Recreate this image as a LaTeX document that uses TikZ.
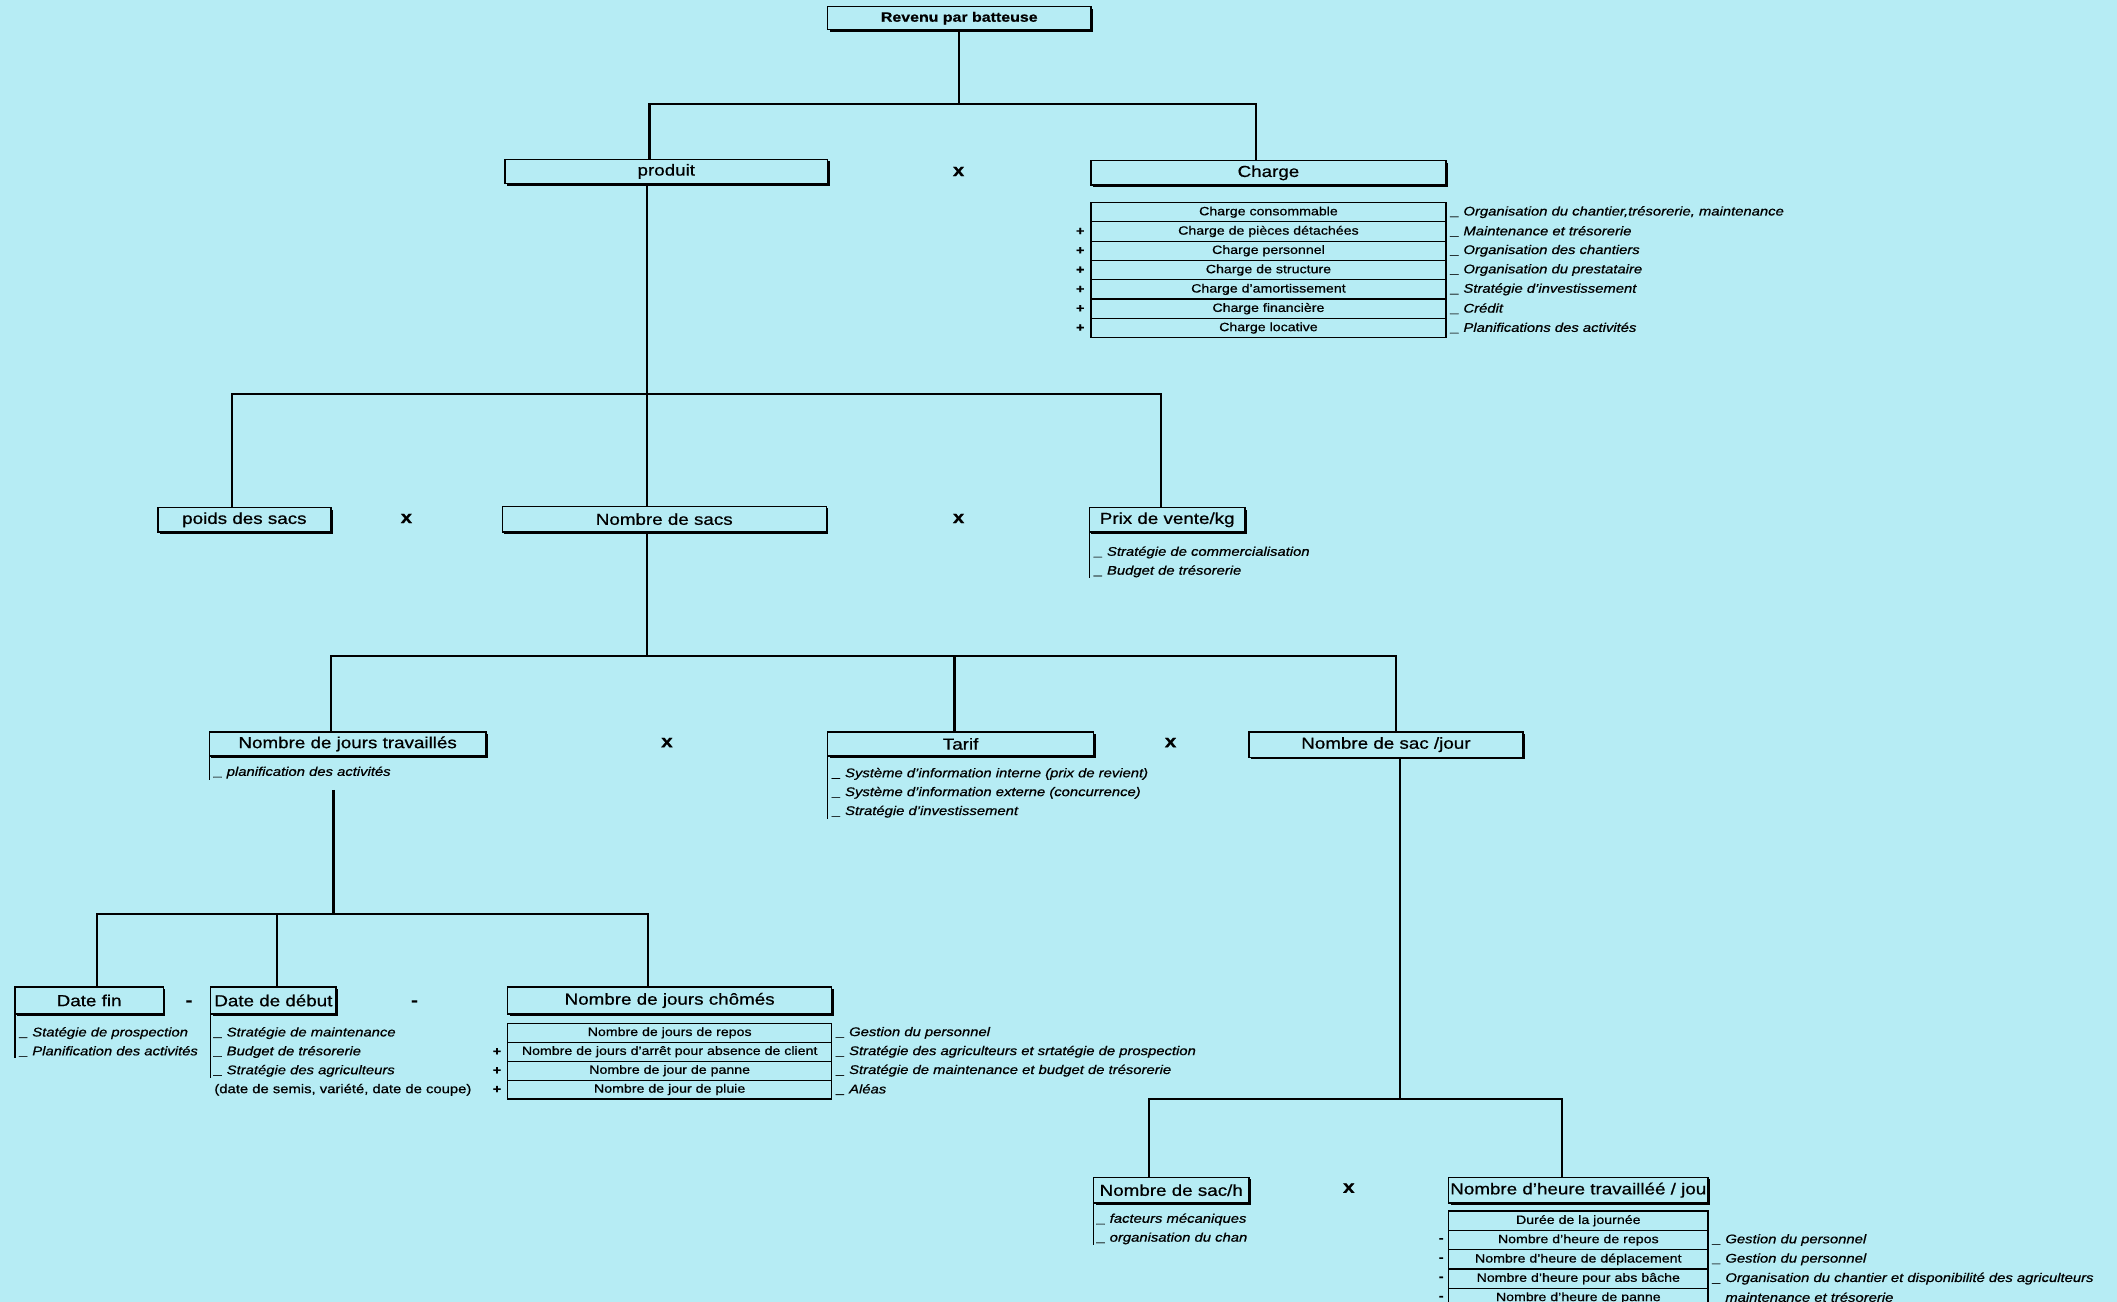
\documentclass[tikz,border=0pt]{standalone}
\usepackage{fontspec}
\setmainfont{Liberation Sans}[FakeStretch=1.18, RawFeature={embolden=0.7}]
\usetikzlibrary{positioning,shadows}
\definecolor{fond}{RGB}{182,236,244}

\begin{document}
\begin{tikzpicture}[x=1pt, y=-1pt, line width=1.6pt,
  boite/.style={draw, fill=fond, line width=1.1pt, anchor=north west, inner sep=0pt, outer sep=0pt,
    font=\fontsize{11.8}{13}\selectfont,
    drop shadow={shadow xshift=1.4pt, shadow yshift=-1.4pt, fill=black, opacity=1}},
  ligne/.style={draw, fill=fond, line width=0.9pt, inner sep=0pt, outer sep=0pt, minimum height=14.3pt,
    font=\fontsize{8.9}{10}\selectfont},
  note/.style={anchor=west, inner sep=0pt, font=\fontsize{9.3}{11}\selectfont\itshape},
  liste/.style={anchor=north west, align=left, inner sep=0pt, font=\fontsize{9.3}{14}\selectfont\itshape},
  signe/.style={inner sep=0pt, font=\fontsize{9}{10}\selectfont\bfseries},
  fois/.style={inner sep=0pt, font=\fontsize{13}{14}\selectfont\bfseries}]
  \fill[fond] (0,0) rectangle (1568,964);
  \useasboundingbox (0,0) rectangle (1568,964);
  \clip (0,0) rectangle (1568,964);

  % boites
  \node[boite, minimum width=195pt, minimum height=17pt, font=\fontsize{10}{12}\selectfont\bfseries] (revenu) at (613,5) {Revenu par batteuse};
  \node[boite, minimum width=239pt, minimum height=18pt] (produit) at (374,118) {produit};
  \node[boite, minimum width=263pt, minimum height=18pt] (charge) at (808,119) {Charge};
  \node[boite, minimum width=128pt, minimum height=18pt] (poids) at (117,376) {poids des sacs};
  \node[boite, minimum width=240pt, minimum height=19pt] (nbsacs) at (372,375) {Nombre de sacs};
  \node[boite, minimum width=115pt, minimum height=18pt] (prix) at (807,376) {Prix de vente/kg};
  \node[boite, minimum width=205pt, minimum height=18pt] (jours) at (155,542) {Nombre de jours travaillés};
  \node[boite, minimum width=197pt, minimum height=18pt] (tarif) at (613,542) {Tarif};
  \node[boite, minimum width=203pt, minimum height=19pt] (sacjour) at (925,542) {Nombre de sac /jour};
  \node[boite, minimum width=110pt, minimum height=20pt] (datefin) at (11,731) {Date fin};
  \node[boite, minimum width=93pt, minimum height=20pt] (datedebut) at (156,731) {Date de début};
  \node[boite, minimum width=240pt, minimum height=20pt] (chomes) at (376,731) {Nombre de jours chômés};
  \node[boite, minimum width=115pt, minimum height=19pt] (sach) at (810,872) {Nombre de sac/h};
  \node[boite, minimum width=192pt, minimum height=19pt] (heures) at (1073,872) {Nombre d'heure travailléé / jou};

  % operateurs
  \node[fois] (f1) at (710,127) {x};
  \node[fois] (f2) at (301,384) {x};
  \node[fois] (f3) at (710,384) {x};
  \node[fois] (f4) at (494,550) {x};
  \node[fois] (f5) at (867,550) {x};
  \node[fois] (f6) at (999,880) {x};
  \node[fois] (m1) at (140,743) {-};
  \node[fois] (m2) at (307,743) {-};

  % liaisons
  \coordinate (b1g) at (481,77);
  \coordinate (b1d) at (930,77);
  \draw (revenu.south) -- (revenu.south |- b1g);
  \draw (b1g |- produit.north) |- (b1d) -- (b1d |- charge.north);
  \coordinate (b2) at (479,292);
  \coordinate (b2g) at (172,292);
  \coordinate (b2d) at (860,292);
  \draw (b2 |- produit.south) -- (b2 |- nbsacs.north);
  \draw (b2g |- poids.north) |- (b2d) -- (b2d |- prix.north);
  \coordinate (b3g) at (245,486);
  \coordinate (b3t) at (707,486);
  \coordinate (b3d) at (1034,486);
  \draw (b2 |- nbsacs.south) -- (b2 |- b3g);
  \draw (b3g |- jours.north) |- (b3d) -- (b3d |- sacjour.north);
  \draw (b3t) -- (b3t |- tarif.north);
  \coordinate (j0) at (247,585);
  \coordinate (b4g) at (72,677);
  \coordinate (b4m) at (205,677);
  \coordinate (b4d) at (480,677);
  \draw (j0) -- (j0 |- b4g);
  \draw (b4g |- datefin.north) |- (b4d) -- (b4d |- chomes.north);
  \draw (b4m) -- (b4m |- datedebut.north);
  \coordinate (b5) at (1037,814);
  \coordinate (b5g) at (851,814);
  \coordinate (b5d) at (1157,814);
  \draw (b5 |- sacjour.south) -- (b5);
  \draw (b5g |- sach.north) |- (b5d) -- (b5d |- heures.north);

  % listes sous les boites
  \node[liste] (prixl) at (810,404) {\_ Stratégie de commercialisation\\\_ Budget de trésorerie};
  \node[liste] (joursl) at (158,567) {\_ planification des activités};
  \node[liste] (tarifl) at (616,568) {\_ Système d'information interne (prix de revient)\\\_ Système d'information externe (concurrence)\\\_ Stratégie d'investissement};
  \node[liste] (datefinl) at (14,760) {\_ Statégie de prospection\\\_ Planification des activités};
  \node[liste] (datedebutl) at (158,760) {\_ Stratégie de maintenance\\\_ Budget de trésorerie\\\_ Stratégie des agriculteurs};
  \node[liste, font=\fontsize{9.3}{14}\selectfont] (datedebutp) at (158,802) {(date de semis, variété, date de coupe)};
  \node[liste] (sachl) at (812,898) {\_ facteurs mécaniques\\\_ organisation du chan};
  \begin{scope}[line width=1pt]
    \draw (prix.south west) -- (prix.south west |- prixl.south);
    \draw (jours.south west) -- (jours.south west |- joursl.south);
    \draw (tarif.south west) -- (tarif.south west |- tarifl.south);
    \draw (datefin.south west) -- (datefin.south west |- datefinl.south);
    \draw (datedebut.south west) -- (datedebut.south west |- datedebutl.south);
    \draw (sach.south west) -- (sach.south west |- sachl.south);
  \end{scope}

  % tableau des charges
  \begin{scope}[ligne/.append style={minimum width=263pt}]
    \node[ligne, anchor=north west] (c1) at (808,150) {Charge consommable};
    \node[ligne, below=0pt of c1] (c2) {Charge de pièces détachées};
    \node[ligne, below=0pt of c2] (c3) {Charge personnel};
    \node[ligne, below=0pt of c3] (c4) {Charge de structure};
    \node[ligne, below=0pt of c4] (c5) {Charge d'amortissement};
    \node[ligne, below=0pt of c5] (c6) {Charge financière};
    \node[ligne, below=0pt of c6] (c7) {Charge locative};
  \end{scope}
  \node[note, right=3pt of c1] (c1n) {\_ Organisation du chantier,trésorerie, maintenance};
  \node[note, right=3pt of c2] (c2n) {\_ Maintenance et trésorerie};
  \node[note, right=3pt of c3] (c3n) {\_ Organisation des chantiers};
  \node[note, right=3pt of c4] (c4n) {\_ Organisation du prestataire};
  \node[note, right=3pt of c5] (c5n) {\_ Stratégie d'investissement};
  \node[note, right=3pt of c6] (c6n) {\_ Crédit};
  \node[note, right=3pt of c7] (c7n) {\_ Planifications des activités};
  \node[signe, left=4pt of c2] (c2p) {+};
  \node[signe, left=4pt of c3] (c3p) {+};
  \node[signe, left=4pt of c4] (c4p) {+};
  \node[signe, left=4pt of c5] (c5p) {+};
  \node[signe, left=4pt of c6] (c6p) {+};
  \node[signe, left=4pt of c7] (c7p) {+};

  % jours chomes
  \begin{scope}[ligne/.append style={minimum width=240pt, minimum height=14pt}]
    \node[ligne, anchor=north west] (h1) at (376,758) {Nombre de jours de repos};
    \node[ligne, below=0pt of h1] (h2) {Nombre de jours d'arrêt pour absence de client};
    \node[ligne, below=0pt of h2] (h3) {Nombre de jour de panne};
    \node[ligne, below=0pt of h3] (h4) {Nombre de jour de pluie};
  \end{scope}
  \node[note, right=3pt of h1] (h1n) {\_ Gestion du personnel};
  \node[note, right=3pt of h2] (h2n) {\_ Stratégie des agriculteurs et srtatégie de prospection};
  \node[note, right=3pt of h3] (h3n) {\_ Stratégie de maintenance et budget de trésorerie};
  \node[note, right=3pt of h4] (h4n) {\_ Aléas};
  \node[signe, left=4pt of h2] (h2p) {+};
  \node[signe, left=4pt of h3] (h3p) {+};
  \node[signe, left=4pt of h4] (h4p) {+};

  % heures travaillees
  \begin{scope}[ligne/.append style={minimum width=192pt}]
    \node[ligne, anchor=north west] (t1) at (1073,897) {Durée de la journée};
    \node[ligne, below=0pt of t1] (t2) {Nombre d'heure de repos};
    \node[ligne, below=0pt of t2] (t3) {Nombre d'heure de déplacement};
    \node[ligne, below=0pt of t3] (t4) {Nombre d'heure pour abs bâche};
    \node[ligne, below=0pt of t4] (t5) {Nombre d'heure de panne};
  \end{scope}
  \node[note, right=3pt of t2] (t2n) {\_ Gestion du personnel};
  \node[note, right=3pt of t3] (t3n) {\_ Gestion du personnel};
  \node[note, right=3pt of t4] (t4n) {\_ Organisation du chantier et disponibilité des agriculteurs};
  \node[note, right=3pt of t5] (t5n) {\_ maintenance et trésorerie};
  \node[signe, left=3pt of t2] (t2m) {-};
  \node[signe, left=3pt of t3] (t3m) {-};
  \node[signe, left=3pt of t4] (t4m) {-};
  \node[signe, left=3pt of t5] (t5m) {-};
\end{tikzpicture}
\end{document}
